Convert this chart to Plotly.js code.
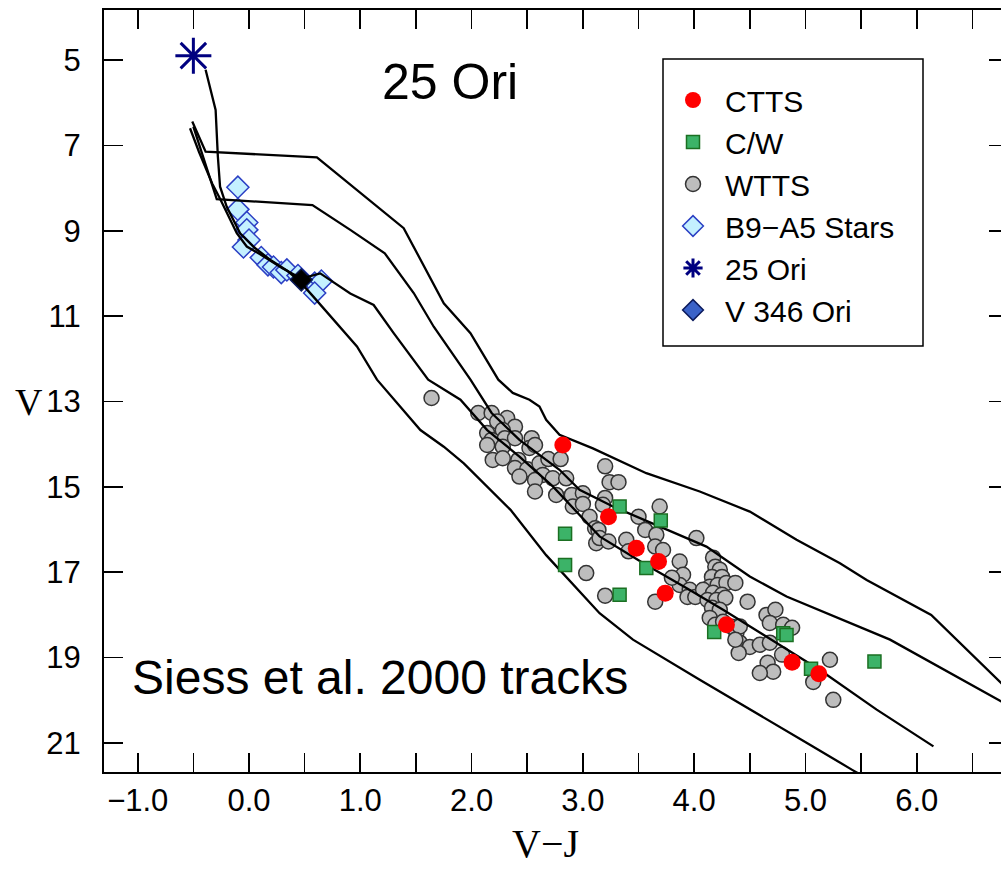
<!DOCTYPE html>
<html>
<head>
<meta charset="utf-8">
<script src="https://cdn.plot.ly/plotly-3.0.1.min.js"></script>
<style>
  html, body { margin: 0; padding: 0; background: #fff; overflow: hidden; }
  #chart { width: 1012px; height: 869px; }
</style>
</head>
<body>
<div id="chart"></div>
<script>
// ---------------- DATA ----------------
const cttsVJ = [2.82, 3.23, 3.48, 3.68, 3.74, 4.29, 4.88, 5.12];
const cttsV  = [14.02, 15.70, 16.44, 16.75, 17.49, 18.23, 19.11, 19.38];

const cwVJ = [2.84, 2.84, 3.33, 3.70, 3.57, 3.33, 4.18, 4.80, 4.83, 5.05, 5.62];
const cwV  = [16.10, 16.83, 15.46, 15.79, 16.90, 17.53, 18.40, 18.43, 18.47, 19.26, 19.09];

const wttsVJ = [1.64, 2.06, 2.18, 2.32, 2.23, 2.39, 2.28, 2.14, 2.18, 2.30, 2.39, 2.54, 2.14, 2.28, 2.52, 2.57,
  2.19, 2.28, 2.42, 2.39, 2.50, 2.43, 2.61, 2.69, 2.80, 2.64, 2.57, 2.57, 2.73, 2.85, 2.76, 2.90, 2.91, 3.00,
  3.00, 3.06, 3.11, 3.12, 3.20, 3.24, 3.32, 3.20, 3.18, 3.14, 3.15, 3.23, 3.50, 3.69, 3.56, 3.66, 3.39, 3.41,
  3.65, 3.72, 4.02, 3.87, 3.90, 3.87, 3.96, 3.03, 3.20, 3.65, 3.80, 3.94, 4.01, 4.17, 4.19, 4.23, 4.16, 4.25,
  4.14, 4.21, 4.29, 4.08, 4.17, 4.25, 4.37, 4.12, 4.20, 4.28, 4.16, 4.23, 4.14, 4.19, 4.26, 4.34, 4.48, 4.38,
  4.41, 4.50, 4.40, 4.59, 4.68, 4.65, 4.73, 4.68, 4.80, 4.88, 4.66, 4.71, 4.59, 5.07, 5.22, 5.25, 4.41, 4.37, 4.79];
const wttsV = [12.92, 13.27, 13.27, 13.39, 13.47, 13.59, 13.67, 13.74, 13.90, 13.86, 13.86, 13.86, 14.02, 14.06, 14.09, 14.02,
  14.37, 14.33, 14.37, 14.56, 14.59, 14.76, 14.45, 14.35, 14.35, 14.72, 14.84, 15.11, 14.80, 14.80, 15.19, 15.19, 15.46, 15.15,
  15.40, 15.70, 15.97, 16.32, 14.52, 14.89, 14.89, 15.26, 15.42, 16.01, 16.20, 16.28, 15.70, 15.46, 16.01, 16.12, 16.24, 16.51,
  16.40, 16.48, 16.20, 16.75, 17.06, 17.30, 17.41, 17.02, 17.55, 17.69, 17.13, 17.58, 17.58, 16.66, 16.87, 16.94, 17.11, 17.11,
  17.34, 17.30, 17.25, 17.41, 17.48, 17.53, 17.25, 17.65, 17.65, 17.60, 17.83, 17.88, 18.07, 18.23, 18.16, 18.28, 17.69, 18.42,
  18.65, 18.75, 18.89, 18.70, 18.65, 18.00, 17.88, 18.19, 18.23, 18.30, 19.12, 19.33, 19.36, 19.57, 19.05, 19.99, 18.27, 18.58, 18.93];

const b9VJ = [-0.10, -0.10, -0.02, -0.02, 0.00, -0.05, 0.11, 0.17, 0.22, 0.29, 0.34, 0.44, 0.59, 0.65, 0.59];
const b9V  = [7.98, 8.50, 8.81, 8.98, 9.22, 9.38, 9.63, 9.80, 9.85, 9.98, 9.92, 10.05, 10.23, 10.18, 10.46];

const ori25VJ = [-0.50];
const ori25V  = [4.90];

const v346VJ = [0.47];
const v346V  = [10.15];

// Siess et al. 2000 isochrones
const trackA_VJ = [-0.51, -0.45, -0.39, 0.61, 1.39, 1.75, 1.99, 2.24, 2.37, 2.52, 2.61, 2.67, 2.79, 3.09, 3.57, 4.05, 4.50, 4.92, 5.31, 5.55, 6.13, 6.76, 6.90];
const trackA_V  = [6.44, 6.80, 7.15, 7.28, 8.94, 10.70, 11.40, 12.49, 12.80, 12.96, 13.12, 13.43, 13.78, 14.10, 14.68, 15.11, 15.58, 16.24, 16.79, 17.18, 18.00, 19.60, 19.95];

const trackB_VJ = [-0.50, -0.42, -0.33, -0.29, 0.57, 0.91, 1.22, 1.48, 1.66, 1.99, 2.18, 2.43, 2.79, 2.97, 3.27, 4.11, 4.50, 4.83, 5.55, 5.76, 6.76, 6.90];
const trackB_V  = [6.56, 7.20, 7.90, 8.26, 8.40, 8.98, 9.53, 10.46, 11.25, 12.49, 13.27, 13.90, 14.60, 15.07, 15.46, 16.40, 17.10, 17.57, 18.35, 18.58, 20.03, 20.20];

const trackC_VJ = [-0.53, -0.45, -0.33, -0.26, -0.11, -0.02, 0.10, 0.30, 0.47, 0.64, 0.91, 1.12, 1.30, 1.61, 1.90, 2.14, 2.43, 2.73, 3.15, 3.57, 3.93, 4.26, 5.13, 5.64, 6.15];
const trackC_V  = [6.60, 7.15, 7.90, 8.25, 9.06, 9.37, 9.55, 9.88, 10.12, 10.00, 10.47, 10.74, 11.40, 12.49, 12.96, 13.67, 14.29, 14.99, 16.16, 16.83, 17.37, 17.88, 19.29, 20.22, 21.08];

const trackD_VJ = [-0.39, -0.30, -0.28, -0.26, -0.20, -0.08, 0.05, 0.20, 0.35, 0.46, 0.58, 0.97, 1.15, 1.36, 1.54, 1.75, 1.93, 2.35, 2.67, 3.15, 3.45, 4.05, 4.50, 5.04, 5.42, 5.60];
const trackD_V  = [5.23, 6.17, 7.26, 7.97, 8.44, 9.06, 9.40, 9.70, 9.95, 10.20, 10.55, 11.71, 12.49, 13.12, 13.67, 14.06, 14.45, 15.54, 16.60, 17.96, 18.58, 19.52, 20.22, 21.04, 21.63, 21.90];

const xTickLabelsFormat = '.1f';
const yTick0 = 5, yDtick = 2;

// ---------------- TRACES ----------------
const SANS = 'Liberation Sans, Arial, Helvetica, sans-serif';
const SERIF = 'Liberation Serif, Times New Roman, serif';

const traces = [];
traces.push({
  x: wttsVJ, y: wttsV, type: 'scatter', mode: 'markers', name: 'WTTS', legendrank: 3,
  marker: {symbol: 'circle', size: 15, color: '#bdbdbd', line: {color: '#333333', width: 1.5}}
});
traces.push({
  x: b9VJ, y: b9V, type: 'scatter', mode: 'markers', name: 'B9\u2212A5 Stars', legendrank: 4,
  marker: {symbol: 'diamond', size: 17, color: '#c4f0ff', line: {color: '#2b3fc4', width: 1.5}}
});
traces.push({
  x: v346VJ, y: v346V, type: 'scatter', mode: 'markers', name: 'V 346 Ori', legendrank: 6,
  marker: {symbol: 'diamond', size: 17, color: '#3a62c8', line: {color: '#0b1a5c', width: 1.5}}
});
traces.push({
  x: v346VJ, y: v346V, type: 'scatter', mode: 'markers', showlegend: false, hoverinfo: 'skip',
  marker: {symbol: 'diamond', size: 15, color: '#000000', line: {color: '#000000', width: 1}}
});
const tracks = [[trackA_VJ, trackA_V], [trackB_VJ, trackB_V], [trackC_VJ, trackC_V], [trackD_VJ, trackD_V]];
tracks.forEach(t => traces.push({
  x: t[0], y: t[1], type: 'scatter', mode: 'lines', showlegend: false, hoverinfo: 'skip',
  line: {color: '#000000', width: 2.3}
}));
traces.push({
  x: cwVJ, y: cwV, type: 'scatter', mode: 'markers', name: 'C/W', legendrank: 2,
  marker: {symbol: 'square', size: 13, color: '#3cb368', line: {color: '#1b6f22', width: 1.5}}
});
traces.push({
  x: cttsVJ, y: cttsV, type: 'scatter', mode: 'markers', name: 'CTTS', legendrank: 1,
  marker: {symbol: 'circle', size: 17, color: '#ff0000', line: {width: 0}}
});
traces.push({
  x: ori25VJ, y: ori25V, type: 'scatter', mode: 'markers', name: '25 Ori', legendrank: 5,
  marker: {symbol: 'asterisk-open', size: 30, color: '#000080', line: {color: '#000080', width: 3}}
});

// ---------------- LAYOUT ----------------
const L = 104, R = 1008, T = 10, B = 772, W = 1012, H = 869;
const pw = R - L, ph = B - T;
const px2x = p => (p - L) / pw;
const py2y = p => 1 - (p - T) / ph;

const axisCommon = {
  showline: true, linecolor: '#000', linewidth: 2, mirror: 'ticks',
  ticks: 'inside', ticklen: 19, tickwidth: 1.6, tickcolor: '#000',
  showgrid: false, zeroline: false,
  tickfont: {family: SANS, size: 31, color: '#000'}
};

const layout = {
  width: W, height: H,
  margin: {l: L, r: W - R, t: T, b: H - B, pad: 0},
  paper_bgcolor: '#fff', plot_bgcolor: '#fff',
  showlegend: true,
  xaxis: Object.assign({}, axisCommon, {
    range: [-1.303, 6.82], tick0: 0, dtick: 1, tickformat: xTickLabelsFormat,
    minor: {dtick: 0.5, ticks: 'inside', ticklen: 19, tickwidth: 1.6, tickcolor: '#000', showgrid: false}
  }),
  yaxis: Object.assign({}, axisCommon, {
    range: [21.68, 3.83], tick0: yTick0, dtick: yDtick, ticklabelstandoff: 15
  }),
  legend: {
    x: px2x(661), y: py2y(74), xanchor: 'left', yanchor: 'top',
    bgcolor: 'rgba(0,0,0,0)', borderwidth: 0, itemwidth: 54,
    font: {family: SANS, size: 30, color: '#000'},
    itemclick: false, itemdoubleclick: false, traceorder: 'normal'
  },
  shapes: [{
    type: 'rect', xref: 'paper', yref: 'paper',
    x0: px2x(663), x1: px2x(923), y0: py2y(346), y1: py2y(59),
    line: {color: '#000', width: 1.5}, fillcolor: 'rgba(255,255,255,0)', layer: 'above'
  }],
  annotations: [
    {text: '25 Ori', xref: 'x', yref: 'y', x: 1.81, y: 5.52, showarrow: false,
     xanchor: 'center', yanchor: 'middle', font: {family: SANS, size: 50, color: '#000'}},
    {text: 'Siess et al. 2000 tracks', xref: 'x', yref: 'y', x: -1.07, y: 19.47, showarrow: false,
     xanchor: 'left', yanchor: 'middle', font: {family: SANS, size: 48, color: '#000'}},
    {text: 'V\u2212J', xref: 'paper', yref: 'paper', x: px2x(545), y: py2y(868), showarrow: false,
     xanchor: 'center', yanchor: 'bottom', font: {family: SERIF, size: 40, color: '#000'}},
    {text: 'V', xref: 'paper', yref: 'paper', x: px2x(29), y: py2y(402), showarrow: false,
     xanchor: 'center', yanchor: 'middle', font: {family: SERIF, size: 38, color: '#000'}}
  ]
};

Plotly.newPlot('chart', traces, layout, {displayModeBar: false, staticPlot: true});
</script>
</body>
</html>
